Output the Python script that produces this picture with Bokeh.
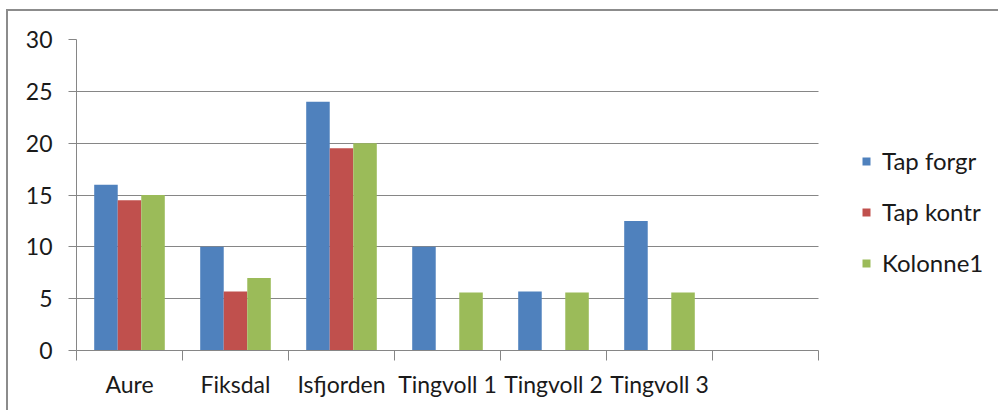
import math
from bokeh.plotting import figure
from bokeh.models import Range1d, FixedTicker, Legend, LegendItem, ColumnDataSource
from bokeh.embed import file_html
from bokeh.resources import INLINE

categories = ["Aure", "Fiksdal", "Isfjorden", "Tingvoll 1", "Tingvoll 2", "Tingvoll 3", ""]
series_names = ["Tap forgr", "Tap kontr", "Kolonne1"]
tap_forgr = [16, 10, 24, 10, 5.7, 12.5, float("nan")]
tap_kontr = [14.5, 5.7, 19.5, float("nan"), float("nan"), float("nan"), float("nan")]
kolonne1 = [15, 7, 20, 5.6, 5.6, 5.6, float("nan")]
colors = ["#4F81BD", "#C0504D", "#9BBB59"]
y_ticks = [0, 5, 10, 15, 20, 25, 30]

FONT = "Lato"
GRID = "#868686"

n = len(categories)
# frame spans to the canvas' right edge; categories occupy the first 742 px of 924
x_end = n * 924 / 742

p = figure(width=992, height=401, output_backend="svg", toolbar_location=None,
           x_range=Range1d(0, x_end), y_range=Range1d(0, 30),
           min_border_left=68, min_border_right=0, min_border_top=28, min_border_bottom=62)
p.styles = {"border-top": "2px solid #8c8c8c", "border-left": "2px solid #8c8c8c",
            "margin-left": "6px", "margin-top": "9px"}
p.outline_line_color = None
p.background_fill_color = "white"
p.border_fill_color = "white"

centers = [i + 0.5 for i in range(n)]
bar_w = 0.222
offsets = [-bar_w, 0.0, bar_w]
items = []
for vals, name, col, off in zip([tap_forgr, tap_kontr, kolonne1], series_names, colors, offsets):
    src = ColumnDataSource(dict(x=[c + off for c in centers], top=vals))
    r = p.vbar(x="x", top="top", bottom=0, width=bar_w, source=src,
               fill_color=col, line_color=None)
    items.append(LegendItem(label=name, renderers=[r]))

# y axis
p.yaxis.ticker = FixedTicker(ticks=y_ticks)
p.yaxis.axis_line_color = GRID
p.yaxis.major_tick_line_color = GRID
p.yaxis.major_tick_out = 8
p.yaxis.major_tick_in = 0
p.yaxis.minor_tick_line_color = None
p.yaxis.major_label_standoff = 16
p.yaxis.major_label_text_font = FONT
p.yaxis.major_label_text_font_size = "23px"
p.yaxis.major_label_text_color = "#1a1a1a"

# x axis: labels at centers, tick marks at boundaries
p.xaxis.bounds = (0, n)
p.xaxis.ticker = FixedTicker(ticks=centers, minor_ticks=list(range(n + 1)))
p.xaxis.major_label_overrides = {c: lab for c, lab in zip(centers, categories)}
p.xaxis.axis_line_color = GRID
p.xaxis.major_tick_line_color = None
p.xaxis.major_tick_out = 0
p.xaxis.major_tick_in = 0
p.xaxis.minor_tick_line_color = GRID
p.xaxis.minor_tick_out = 10
p.xaxis.minor_tick_in = 0
p.xaxis.major_label_standoff = 9
p.xaxis.major_label_text_font = FONT
p.xaxis.major_label_text_font_size = "23px"
p.xaxis.major_label_text_color = "#1a1a1a"

p.xgrid.grid_line_color = None
p.ygrid.ticker = FixedTicker(ticks=y_ticks)
p.ygrid.cross_bounds = (0, n)
p.ygrid.grid_line_color = GRID
p.ygrid.grid_line_width = 1

legend = Legend(items=items, location=(785, 73), orientation="vertical",
                glyph_width=10, glyph_height=10, label_standoff=11,
                label_height=24, spacing=22, padding=0, margin=0,
                border_line_color=None, background_fill_alpha=0,
                label_text_font=FONT, label_text_font_size="24px",
                label_text_color="#1a1a1a")
p.add_layout(legend, "center")

open("out.html", "w").write(file_html(p, INLINE))
